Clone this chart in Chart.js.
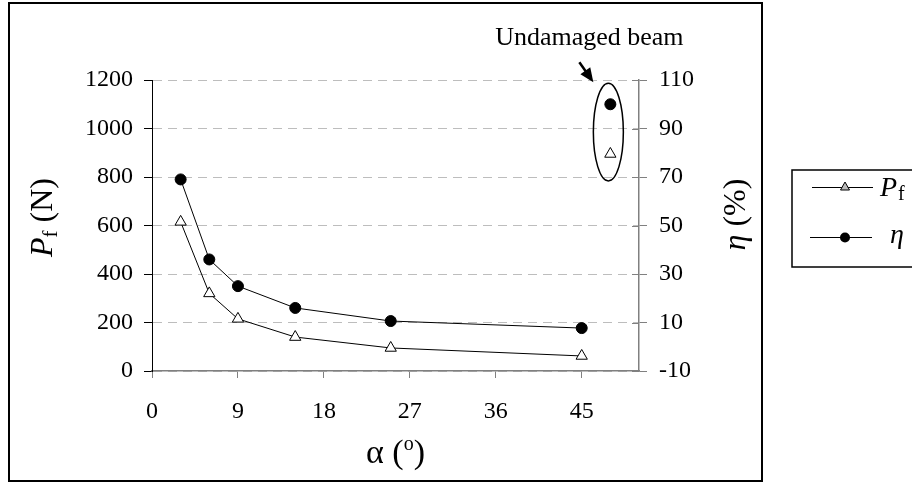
<!DOCTYPE html>
<html>
<head>
<meta charset="utf-8">
<script src="https://cdn.jsdelivr.net/npm/chart.js@4/dist/chart.umd.min.js"></script>
<style>
  html, body { margin: 0; padding: 0; background: #fff; }
  #chart-canvas { display: block; }
</style>
</head>
<body>
<canvas id="chart-canvas" width="912" height="483"></canvas>
<script>
//------------------------ DATA ----------------------------

const alphaValues = [3, 6, 9, 15, 25, 45];
const pfValues = [615, 320, 215, 140, 95, 62];
const etaValues = [69, 36, 25, 16, 10.6, 7.7];

// undamaged beam (single point, not joined)
const undamagedAlpha = [48];
const undamagedPf = [895];
const undamagedEta = [100];

const xTicks = [0, 9, 18, 27, 36, 45];
const pfTicks = [0, 200, 400, 600, 800, 1000, 1200];
const etaTicks = [-10, 10, 30, 50, 70, 90, 110];

const annotationText = "Undamaged beam";

//------------------------ HELPERS ----------------------------

const SERIF = "'Liberation Serif', 'Times New Roman', serif";
Chart.defaults.font.family = SERIF;
Chart.defaults.color = "#000";

function toPoints(xs, ys) {
  return xs.map((x, i) => ({ x: x, y: ys[i] }));
}

// plain numbers, no thousands separator
const plainLabel = (value) => String(value);

// draw text made of pieces with different fonts, centred on x
function drawRich(ctx, parts, x, y) {
  let total = 0;
  parts.forEach((p) => {
    ctx.font = p.font;
    p.w = ctx.measureText(p.text).width;
    total += p.w;
  });
  let cur = x - total / 2;
  ctx.textAlign = "left";
  ctx.textBaseline = "alphabetic";
  parts.forEach((p) => {
    ctx.font = p.font;
    ctx.fillText(p.text, cur, y + (p.dy || 0));
    cur += p.w;
  });
}

// outer frame, titles, legend, annotation
const decorations = {
  id: "decorations",
  beforeDraw(chart) {
    const ctx = chart.ctx;
    ctx.save();
    ctx.fillStyle = "#fff";
    ctx.fillRect(0, 0, chart.width, chart.height);
    ctx.restore();
  },
  afterDraw(chart) {
    const ctx = chart.ctx;
    const area = chart.chartArea;
    const xs = chart.scales.x;
    const yL = chart.scales.y;
    const yR = chart.scales.y2;
    ctx.save();
    ctx.fillStyle = "#000";
    ctx.strokeStyle = "#000";

    // outer frame
    ctx.lineWidth = 2;
    ctx.strokeRect(9, 3, 753, 478);

    // right axis ticks cross the axis line
    ctx.strokeStyle = "#808080";
    ctx.lineWidth = 1;
    etaTicks.forEach((v) => {
      const py = Math.round(yR.getPixelForValue(v)) + 0.5;
      ctx.beginPath();
      ctx.moveTo(area.right - 7, py);
      ctx.lineTo(area.right, py);
      ctx.stroke();
    });

    // left title P_f (N)
    ctx.save();
    ctx.translate(52, (area.top + area.bottom) / 2 - 8);
    ctx.rotate(-Math.PI / 2);
    drawRich(ctx, [
      { text: "P", font: "italic 32px " + SERIF },
      { text: "f", font: "21px " + SERIF, dy: 5 },
      { text: " (N)", font: "32px " + SERIF },
    ], 0, 0);
    ctx.restore();

    // right title eta (%)
    ctx.save();
    ctx.translate(745, (area.top + area.bottom) / 2 - 11);
    ctx.rotate(-Math.PI / 2);
    drawRich(ctx, [
      { text: "η", font: "italic 32px " + SERIF },
      { text: " (%)", font: "32px " + SERIF },
    ], 0, 0);
    ctx.restore();

    // bottom title alpha (o)
    drawRich(ctx, [
      { text: "α (", font: "34px " + SERIF },
      { text: "o", font: "20px " + SERIF, dy: -13 },
      { text: ")", font: "34px " + SERIF },
    ], (area.left + area.right) / 2, 463);

    // legend box (runs off the right edge)
    ctx.lineWidth = 1.5;
    ctx.strokeStyle = "#000";
    ctx.strokeRect(792, 170, 140, 97);
    ctx.lineWidth = 1;
    ctx.beginPath();
    ctx.moveTo(812, 187.5);
    ctx.lineTo(873, 187.5);
    ctx.moveTo(810, 237.5);
    ctx.lineTo(872, 237.5);
    ctx.stroke();
    // small triangle marker
    ctx.fillStyle = "#bbb";
    ctx.beginPath();
    ctx.moveTo(845, 182);
    ctx.lineTo(849.5, 190);
    ctx.lineTo(840.5, 190);
    ctx.closePath();
    ctx.fill();
    ctx.stroke();
    ctx.fillStyle = "#000";
    ctx.beginPath();
    ctx.arc(845, 237.5, 5, 0, Math.PI * 2);
    ctx.fill();
    ctx.textAlign = "left";
    ctx.font = "italic 28px " + SERIF;
    ctx.fillText("P", 880, 196);
    ctx.font = "20px " + SERIF;
    ctx.fillText("f", 898, 200);
    ctx.font = "italic 28px " + SERIF;
    ctx.fillText("η", 890, 243);

    // ellipse round the undamaged beam points
    const cx = xs.getPixelForValue(undamagedAlpha[0]) - 2;
    const yTop = yR.getPixelForValue(undamagedEta[0]);
    const yBot = yL.getPixelForValue(undamagedPf[0]);
    const cy = (yTop + yBot) / 2 + 3;
    const ry = (yBot - yTop) / 2 + 24;
    ctx.lineWidth = 1.5;
    ctx.beginPath();
    ctx.ellipse(cx, cy, 15, ry, 0, 0, Math.PI * 2);
    ctx.stroke();

    // arrow
    const top = cy - ry;
    const tipX = cx - 15, tipY = top - 1;
    const tailX = cx - 29, tailY = top - 21;
    const ang = Math.atan2(tipY - tailY, tipX - tailX);
    const headLen = 14, headHalf = 6;
    ctx.lineWidth = 2.5;
    ctx.beginPath();
    ctx.moveTo(tailX, tailY);
    ctx.lineTo(tipX - Math.cos(ang) * 10, tipY - Math.sin(ang) * 10);
    ctx.stroke();
    ctx.beginPath();
    ctx.moveTo(tipX, tipY);
    ctx.lineTo(tipX - Math.cos(ang) * headLen + Math.sin(ang) * headHalf, tipY - Math.sin(ang) * headLen - Math.cos(ang) * headHalf);
    ctx.lineTo(tipX - Math.cos(ang) * headLen - Math.sin(ang) * headHalf, tipY - Math.sin(ang) * headLen + Math.cos(ang) * headHalf);
    ctx.closePath();
    ctx.fill();

    // annotation text
    ctx.font = "26px " + SERIF;
    ctx.textAlign = "center";
    ctx.fillText(annotationText, cx - 19, top - 38);

    ctx.restore();
  },
};

//------------------------ CHART ----------------------------

const lineStyle = {
  borderColor: "#000",
  borderWidth: 1,
  tension: 0,
  pointBorderColor: "#000",
  pointBorderWidth: 1,
};

const ctx = document.getElementById("chart-canvas").getContext("2d");
const myChart = new Chart(ctx, {
  type: "scatter",
  data: {
    datasets: [
      {
        ...lineStyle,
        label: "Pf",
        data: toPoints(alphaValues, pfValues),
        yAxisID: "y",
        showLine: true,
        pointStyle: "triangle",
        pointRadius: 6.5,
        pointBackgroundColor: "#fff",
      },
      {
        ...lineStyle,
        label: "η",
        data: toPoints(alphaValues, etaValues),
        yAxisID: "y2",
        showLine: true,
        pointStyle: "circle",
        pointRadius: 5.5,
        pointBackgroundColor: "#000",
      },
      {
        ...lineStyle,
        label: "Pf undamaged",
        data: toPoints(undamagedAlpha, undamagedPf),
        yAxisID: "y",
        showLine: false,
        pointStyle: "triangle",
        pointRadius: 6.5,
        pointBackgroundColor: "#fff",
      },
      {
        ...lineStyle,
        label: "η undamaged",
        data: toPoints(undamagedAlpha, undamagedEta),
        yAxisID: "y2",
        showLine: false,
        pointStyle: "circle",
        pointRadius: 5.5,
        pointBackgroundColor: "#000",
      },
    ],
  },
  options: {
    responsive: false,
    animation: false,
    layout: { padding: { top: 80, left: 0, right: 0, bottom: 0 } },
    plugins: {
      legend: { display: false },
      tooltip: { enabled: false },
    },
    scales: {
      x: {
        type: "linear",
        min: 0,
        max: 51,
        afterBuildTicks: (scale) => {
          scale.ticks = xTicks.map((v) => ({ value: v }));
        },
        afterFit: (scale) => {
          scale.height = 112;
        },
        ticks: { font: { size: 24 }, padding: 19, color: "#000", callback: plainLabel },
        grid: {
          drawOnChartArea: false,
          tickLength: 7,
          tickColor: "#808080",
        },
        border: { color: "#808080", width: 1.5 },
      },
      y: {
        position: "left",
        min: 0,
        max: 1200,
        afterBuildTicks: (scale) => {
          scale.ticks = pfTicks.map((v) => ({ value: v }));
        },
        afterFit: (scale) => {
          scale.width = 152;
        },
        ticks: { font: { size: 24 }, padding: 11, color: "#000", callback: plainLabel },
        grid: {
          color: "#bdbdbd",
          lineWidth: 1,
          tickLength: 8,
          tickColor: "#000",
          tickBorderDash: [],
        },
        border: { color: "#000", width: 1, dash: [9, 6] },
      },
      y2: {
        position: "right",
        min: -10,
        max: 110,
        afterBuildTicks: (scale) => {
          scale.ticks = etaTicks.map((v) => ({ value: v }));
        },
        afterFit: (scale) => {
          scale.width = 273;
        },
        ticks: { font: { size: 24 }, padding: 12, color: "#000", callback: plainLabel },
        grid: {
          drawOnChartArea: false,
          tickLength: 8,
          tickColor: "#808080",
        },
        border: { color: "#808080", width: 1.5 },
      },
    },
  },
  plugins: [decorations],
});
</script>
</body>
</html>
